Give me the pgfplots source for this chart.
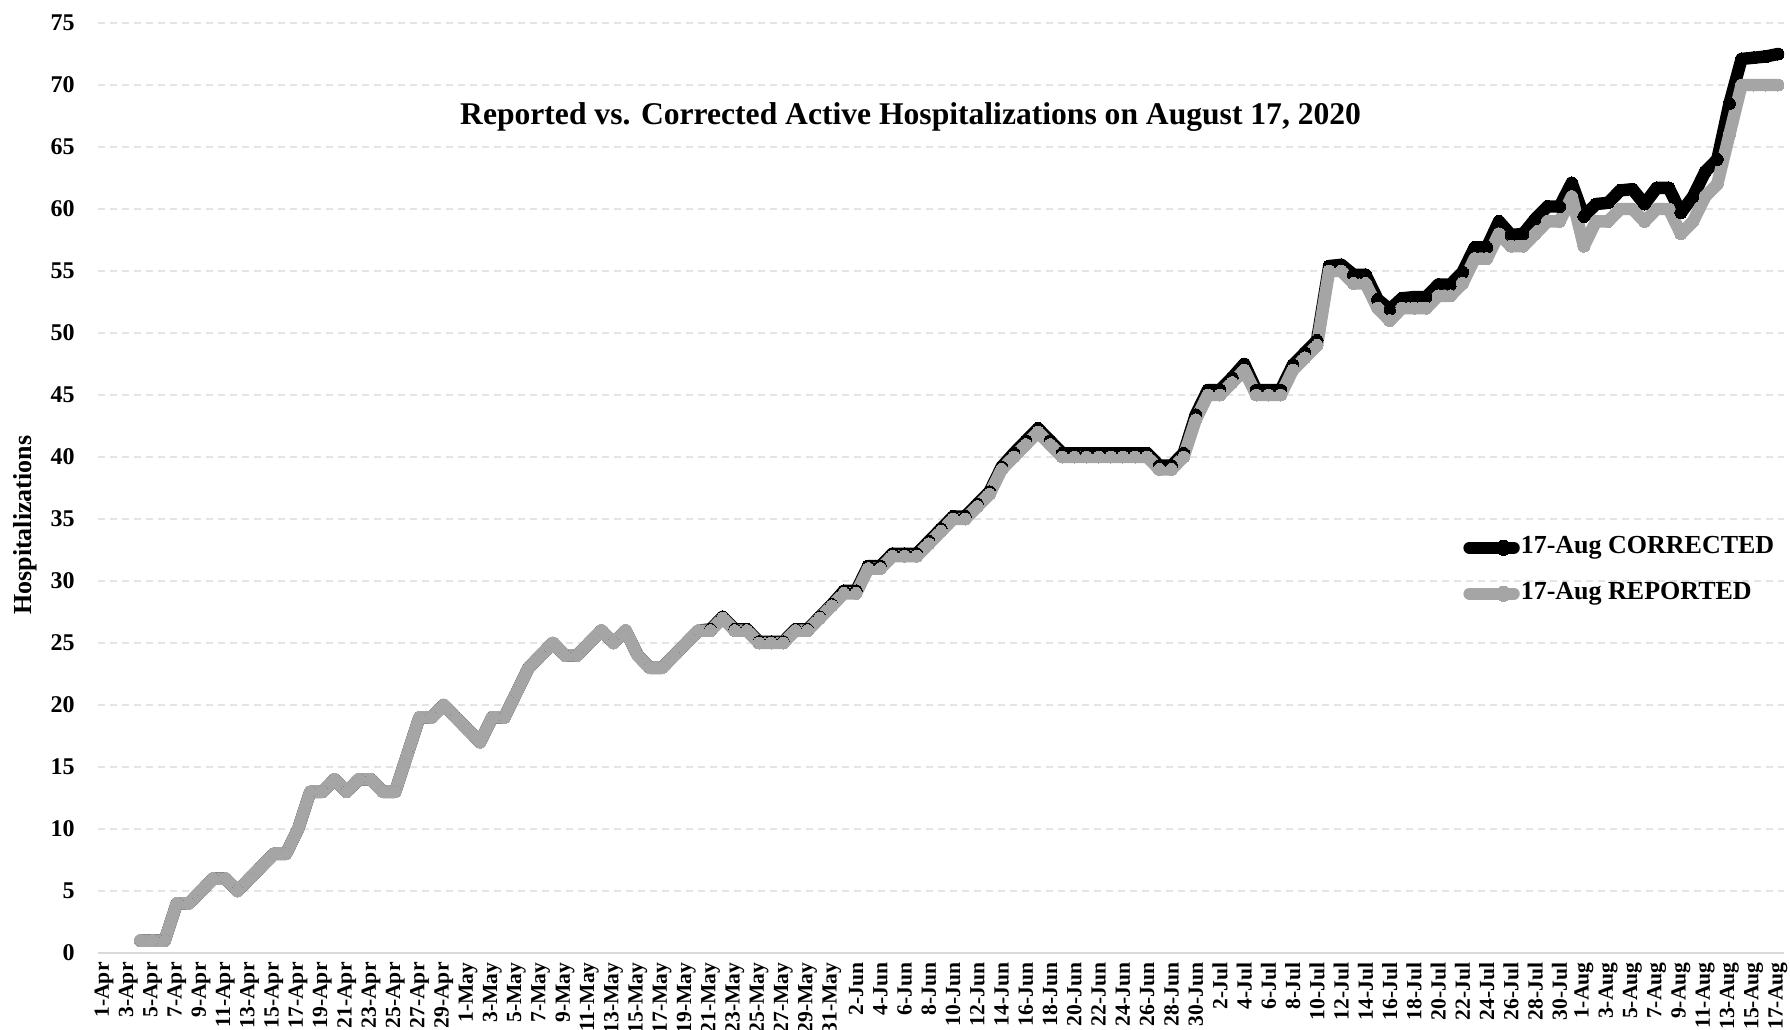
\documentclass[border=0pt]{standalone}
\usepackage{pgfplots}
\pgfplotsset{compat=1.18}
\usepackage{pgfplotstable}
\usepackage{fontspec}
\setmainfont{Liberation Serif}
\definecolor{repgray}{HTML}{A5A5A5}
\definecolor{gridgray}{HTML}{E4E4E4}
\definecolor{axgray}{HTML}{D9D9D9}

\pgfplotstableread{
i rep cor
3 1 1
4 1 1
5 1 1
6 4 4
7 4 4
8 5 5
9 6 6
10 6 6
11 5 5
12 6 6
13 7 7
14 8 8
15 8 8
16 10 10
17 13 13
18 13 13
19 14 14
20 13 13
21 14 14
22 14 14
23 13 13
24 13 13
25 16 16
26 19 19
27 19 19
28 20 20
29 19 19
30 18 18
31 17 17
32 19 19
33 19 19
34 21 21
35 23 23
36 24 24
37 25 25
38 24 24
39 24 24
40 25 25
41 26 26
42 25 25
43 26 26
44 24 24
45 23 23
46 23 23
47 24 24
48 25 25
49 26 26
50 26 26.1
51 27 27.1
52 26 26.1
53 26 26.1
54 25 25.1
55 25 25.1
56 25 25.1
57 26 26.1
58 26 26.1
59 27 27.1
60 28 28.1
61 29 29.2
62 29 29.2
63 31 31.2
64 31 31.2
65 32 32.2
66 32 32.2
67 32 32.2
68 33 33.2
69 34 34.2
70 35 35.2
71 35 35.2
72 36 36.2
73 37 37.2
74 39 39.2
75 40 40.3
76 41 41.3
77 42 42.3
78 41 41.3
79 40 40.3
80 40 40.3
81 40 40.3
82 40 40.3
83 40 40.3
84 40 40.3
85 40 40.3
86 40 40.3
87 39 39.3
88 39 39.3
89 40 40.3
90 43 43.4
91 45 45.4
92 45 45.4
93 46 46.4
94 47 47.5
95 45 45.4
96 45 45.4
97 45 45.4
98 47 47.4
99 48 48.4
100 49 49.4
101 55 55.4
102 55 55.5
103 54 54.7
104 54 54.7
105 52 52.7
106 51 51.9
107 52 52.8
108 52 52.9
109 52 52.9
110 53 53.9
111 53 53.9
112 54 54.9
113 56 56.9
114 56 56.9
115 58 59.0
116 57 57.9
117 57 58.0
118 58 59.2
119 59 60.2
120 59 60.2
121 61 62.1
122 57 59.4
123 59 60.4
124 59 60.5
125 60 61.5
126 60 61.6
127 59 60.4
128 60 61.7
129 60 61.7
130 58 59.7
131 59 61.0
132 61 63.0
133 62 64.0
134 66 68.5
135 70 72.1
136 70 72.2
137 70 72.3
138 70 72.5
}\datatable

\begin{document}
\begin{tikzpicture}
\begin{axis}[
  at={(0,0)}, anchor=south west,
  scale only axis, width=843pt, height=465pt,
  xmin=-0.5, xmax=138.5, ymin=0, ymax=75,
  clip=false,
  axis x line*=bottom, axis y line*=left,
  y axis line style={draw=none},
  x axis line style={draw=axgray, line width=1pt},
  major tick length=0pt,
  ytick={0,5,...,75},
  ymajorgrids,
  major grid style={draw=gridgray, line width=0.9pt, dash pattern=on 3.5pt off 2.5pt},
  xtick={0,2,...,138},
  xticklabels={1-Apr,3-Apr,5-Apr,7-Apr,9-Apr,11-Apr,13-Apr,15-Apr,17-Apr,19-Apr,21-Apr,23-Apr,25-Apr,27-Apr,29-Apr,
    1-May,3-May,5-May,7-May,9-May,11-May,13-May,15-May,17-May,19-May,21-May,23-May,25-May,27-May,29-May,31-May,
    2-Jun,4-Jun,6-Jun,8-Jun,10-Jun,12-Jun,14-Jun,16-Jun,18-Jun,20-Jun,22-Jun,24-Jun,26-Jun,28-Jun,30-Jun,
    2-Jul,4-Jul,6-Jul,8-Jul,10-Jul,12-Jul,14-Jul,16-Jul,18-Jul,20-Jul,22-Jul,24-Jul,26-Jul,28-Jul,30-Jul,
    1-Aug,3-Aug,5-Aug,7-Aug,9-Aug,11-Aug,13-Aug,15-Aug,17-Aug},
  xticklabel style={rotate=90, anchor=east, font=\bfseries\fontsize{10.8}{10.8}\selectfont, inner sep=0pt},
  xticklabel shift=4.5pt,
  yticklabel style={font=\bfseries\fontsize{12}{12}\selectfont, anchor=east, inner sep=0pt},
  yticklabel shift=11.5pt,
  /pgf/number format/assume math mode=true,
  legend style={draw=none, fill=none, at={(0.8096,0.411)}, anchor=west, inner sep=0pt,
    row sep=11pt, column sep=0.5pt,
    font=\bfseries\fontsize{13}{13}\selectfont,
    nodes={inner sep=0pt, text height=9pt, text depth=3pt, anchor=west}},
  legend cell align=left,
  legend image code/.code={\draw[#1, mark=none] (0pt,0pt) -- (22pt,0pt);
    \draw[#1, mark size=3.8pt] plot coordinates {(17pt,0pt)};},
]
\addplot[black, line width=6.2pt, line join=round, line cap=round, mark=*, mark size=3pt, mark options={solid, line width=0pt}] table[x=i,y=cor]{\datatable};
\addlegendentry{17-Aug CORRECTED}
\addplot[repgray, line width=6.2pt, line join=round, line cap=round, mark=*, mark size=3pt, mark options={solid, line width=0pt}] table[x=i,y=rep]{\datatable};
\addlegendentry{17-Aug REPORTED}
\node[font=\bfseries\fontsize{15.8}{15.8}\selectfont] at (rel axis cs:0.482,0.899) {Reported vs. Corrected Active Hospitalizations on August 17, 2020};
\node[rotate=90, font=\bfseries\fontsize{13}{13}\selectfont] at (rel axis cs:-0.0433,0.46) {Hospitalizations};
\end{axis}
\pgfresetboundingbox
\path[use as bounding box] (-49pt,-38pt) rectangle (846pt,476.5pt);
\end{tikzpicture}
\end{document}
